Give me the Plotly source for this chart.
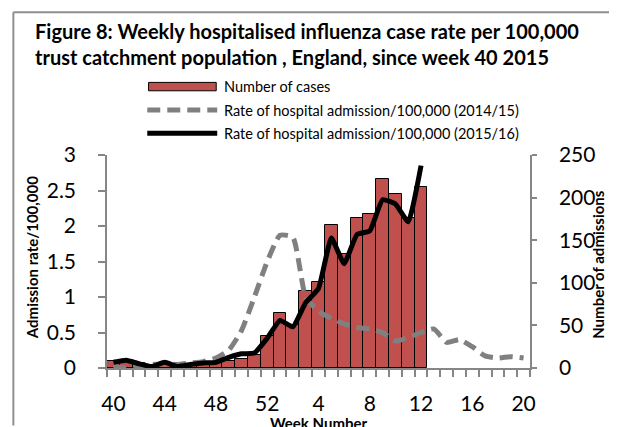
import plotly.graph_objects as go

# ---- data ----
weeks = [40, 41, 42, 43, 44, 45, 46, 47, 48, 49, 50, 51, 52,
         1, 2, 3, 4, 5, 6, 7, 8, 9, 10, 11, 12, 13, 14, 15, 16, 17, 18, 19, 20]
cases = [8, 9, 6, 2, 6, 2, 4, 6, 6, 8, 11, 15, 37,
         64, 50, 90, 101, 168, 134, 176, 181, 222, 204, 176, 212]
rate_1516 = [0.08, 0.11, 0.06, 0.02, 0.08, 0.02, 0.05, 0.07, 0.08, 0.15, 0.20, 0.21, 0.42,
             0.67, 0.58, 0.92, 1.12, 1.83, 1.47, 1.88, 1.93, 2.37, 2.31, 2.06, 2.85]
rate_1415 = [0.02, 0.00, 0.03, 0.05, 0.06, 0.05, 0.07, 0.09, 0.14, 0.25, 0.53, 1.00, 1.50,
             1.87, 1.84, 1.00, 0.80, 0.70, 0.62, 0.57, 0.55, 0.50, 0.38, 0.43, 0.50,
             0.55, 0.36, 0.40, 0.30, 0.17, 0.14, 0.16, 0.14]
label_every = 4

title_text = ("Figure 8: Weekly hospitalised influenza case rate per 100,000<br>"
              "trust catchment population , England, since week 40 2015")
legend_names = ["Number of cases",
                "Rate of hospital admission/100,000 (2014/15)",
                "Rate of hospital admission/100,000 (2015/16)"]

# ---- layout geometry (target page pixels; page body has an 8px margin) ----
OFF = 8
W, H = 617 - OFF, 427 - OFF
L, R, T, B = 106.7 - OFF, 530.0 - OFF, 155.0 - OFF, 368.3 - OFF
def px(x):
    return (x - OFF - L) / (R - L)
def py(y):
    return (B - (y - OFF)) / (B - T)

FONT = "Lato"
AXIS_GREY = "#868686"
BAR_RED = "#C0504D"
BORDER_GREY = "#8e8e8e"

idx = list(range(len(weeks)))

fig = go.Figure()
fig.add_trace(go.Bar(x=idx[:len(cases)], y=cases, yaxis="y", width=1,
                     marker=dict(color=BAR_RED, line=dict(color="black", width=1)),
                     name=legend_names[0], showlegend=False))
fig.add_trace(go.Scatter(x=idx[:len(rate_1415)], y=rate_1415, yaxis="y2", mode="lines",
                         line=dict(color="#808080", width=5, dash="13px,7px",
                                   shape="spline", smoothing=0.5),
                         name=legend_names[1], showlegend=False))
fig.add_trace(go.Scatter(x=idx[:len(rate_1516)], y=rate_1516, yaxis="y2", mode="lines",
                         line=dict(color="black", width=5, shape="spline", smoothing=0.4),
                         name=legend_names[2], showlegend=False))

tickvals = [i for i in idx if i % label_every == 0]
ticktext = [str(weeks[i]) for i in tickvals]

fig.update_layout(
    width=W, height=H,
    margin=dict(l=L, r=W - R, t=T, b=H - B, pad=0),
    paper_bgcolor="white", plot_bgcolor="white",
    bargap=0,
    font=dict(family=FONT, color="black"),
    xaxis=dict(range=[-0.5, len(weeks) - 0.5], showgrid=False, zeroline=False,
               showline=True, linecolor=AXIS_GREY, linewidth=1.5,
               tickmode="array", tickvals=tickvals, ticktext=ticktext,
               ticks="", ticklabelstandoff=16,
               tickfont=dict(family=FONT, size=21, color="black"),
               minor=dict(ticks="outside", ticklen=7, tickcolor=AXIS_GREY, tickwidth=1.5,
                          tick0=-0.5, dtick=1, showgrid=False)),
    yaxis=dict(range=[0, 250], side="right", showgrid=False, zeroline=False,
               showline=True, linecolor=AXIS_GREY, linewidth=1.5,
               tickmode="linear", tick0=0, dtick=50,
               ticks="outside", ticklen=5, tickcolor=AXIS_GREY, tickwidth=1.5,
               ticklabelstandoff=18,
               tickfont=dict(family=FONT, size=21, color="black")),
    yaxis2=dict(range=[0, 3], overlaying="y", side="left", showgrid=False, zeroline=False,
                showline=True, linecolor=AXIS_GREY, linewidth=1.5,
                tickmode="linear", tick0=0, dtick=0.5,
                ticks="outside", ticklen=7, tickcolor=AXIS_GREY, tickwidth=1.5,
                ticklabelstandoff=18,
                tickfont=dict(family=FONT, size=21, color="black")),
)

# outer chart border: left, top and right edges, kept inside the figure
for (x0, y0, x1, y1) in [(13, 12, 13, 426), (13, 12, 611, 12), (611, 12, 611, 426)]:
    fig.add_shape(type="line", xref="paper", yref="paper", layer="above",
                  x0=px(x0), y0=py(y0), x1=px(x1), y1=py(y1),
                  line=dict(color=BORDER_GREY, width=2))

# title
fig.add_annotation(text=title_text, xref="paper", yref="paper", x=px(33), y=py(44),
                   xanchor="left", yanchor="middle", align="left", showarrow=False,
                   font=dict(family=FONT, size=20, color="black", weight="bold"))

# legend (manual)
fig.add_shape(type="rect", xref="paper", yref="paper",
              x0=px(148.3), x1=px(216), y0=py(90.7), y1=py(82.3),
              fillcolor=BAR_RED, line=dict(color="black", width=1))
fig.add_shape(type="line", xref="paper", yref="paper",
              x0=px(147), x1=px(217), y0=py(110), y1=py(110),
              line=dict(color="#808080", width=5, dash="13px,7px"))
fig.add_shape(type="line", xref="paper", yref="paper",
              x0=px(147), x1=px(217), y0=py(133.3), y1=py(133.3),
              line=dict(color="black", width=5))
for name, yc in zip(legend_names, [86, 110, 133.3]):
    fig.add_annotation(text=name, xref="paper", yref="paper", x=px(222), y=py(yc),
                       xanchor="left", yanchor="middle", showarrow=False,
                       font=dict(family=FONT, size=14.5, color="black"))

# axis titles
fig.add_annotation(text="Week Number", xref="paper", yref="paper",
                   x=px(318), y=py(412), xanchor="center", yanchor="top",
                   showarrow=False, font=dict(family=FONT, size=15, color="black", weight="bold"))
fig.add_annotation(text="Admission rate/100,000", xref="paper", yref="paper",
                   x=px(32.5), y=py(257.5), xanchor="center", yanchor="middle", textangle=-90,
                   showarrow=False, font=dict(family=FONT, size=15, color="black", weight="bold"))
fig.add_annotation(text="Number of admissions", xref="paper", yref="paper",
                   x=px(598), y=py(264), xanchor="center", yanchor="middle", textangle=-90,
                   showarrow=False, font=dict(family=FONT, size=15, color="black", weight="bold"))

fig.write_html("out.html")
